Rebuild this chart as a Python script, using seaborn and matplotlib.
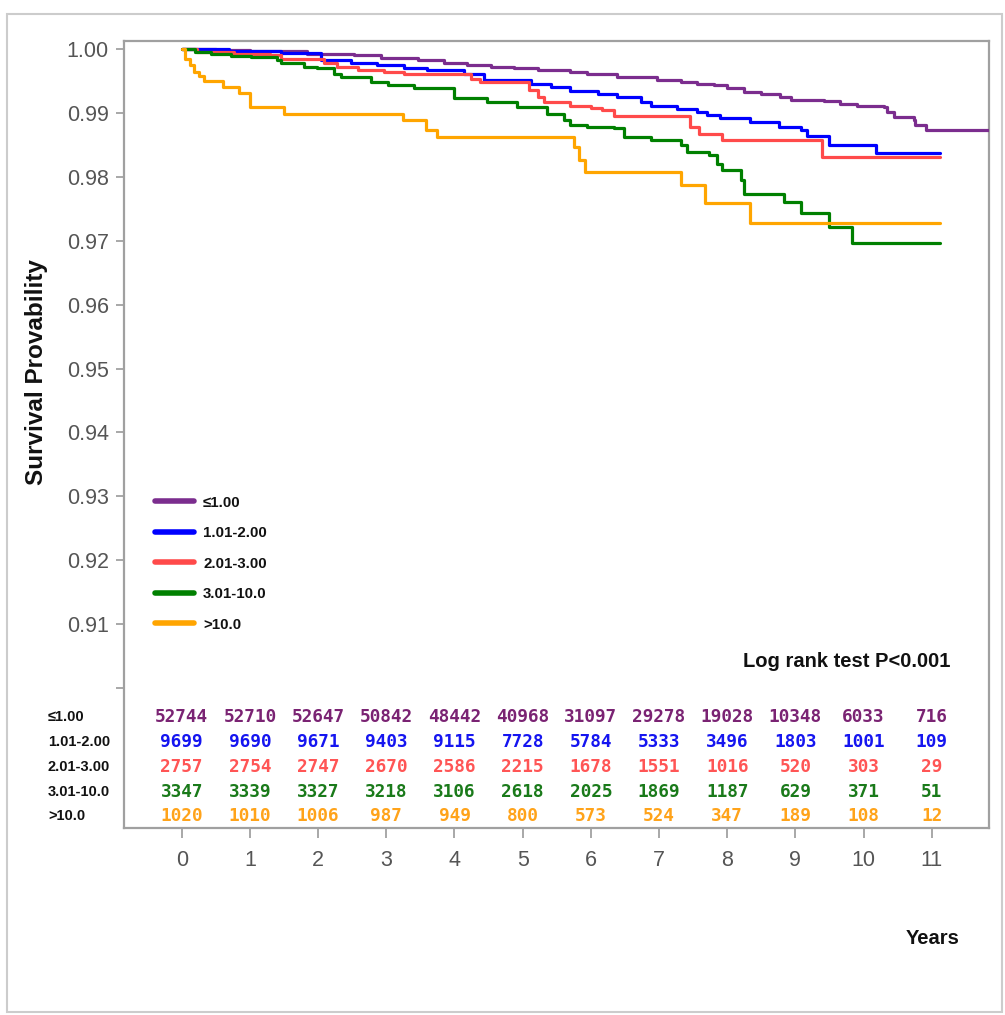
import pandas as pd
import matplotlib.pyplot as plt
import matplotlib.transforms as mtransforms
from matplotlib.lines import Line2D
from matplotlib.patches import Rectangle
import seaborn as sns

# Groups and colours
groups = ['≤1.00', '1.01-2.00', '2.01-3.00', '3.01-10.0', '>10.0']
line_colors = ['#7b2d8e', '#0000ff', '#ff4a4a', '#008000', '#ffa500']
num_colors = ['#7a2373', '#1515f0', '#ff5555', '#1a7a1a', '#ffa31a']

# Kaplan-Meier step curves (time in years, survival)
t_le1 = [0, 0.5, 1.0, 1.25, 1.84, 2.53, 2.92, 3.46, 3.85, 4.19, 4.53, 4.87, 5.22, 5.70, 5.95,
         6.39, 6.97, 7.32, 7.56, 7.81, 8.00, 8.24, 8.49, 8.78, 8.93, 9.42, 9.66, 9.91,
         10.30, 10.35, 10.44, 10.74, 10.76, 10.91, 11.84]
s_le1 = [1.0, 0.9999, 0.9998, 0.9997, 0.9993, 0.9991, 0.9987, 0.9983, 0.9979, 0.9976, 0.9972,
         0.9970, 0.9967, 0.9964, 0.9961, 0.9957, 0.9952, 0.9949, 0.9946, 0.9944, 0.9939,
         0.9933, 0.9930, 0.9925, 0.9921, 0.9919, 0.9915, 0.9911, 0.9909, 0.9902, 0.9894,
         0.9890, 0.9881, 0.9873, 0.9873]

t_1_2 = [0, 0.7, 1.45, 2.04, 2.48, 2.87, 3.26, 3.60, 4.14, 4.43, 5.12, 5.41, 5.70, 6.10,
         6.39, 6.73, 6.88, 7.27, 7.56, 7.71, 7.90, 8.34, 8.76, 9.08, 9.17, 9.49, 10.18, 11.12]
s_1_2 = [1.0, 0.9998, 0.9995, 0.9984, 0.9979, 0.9975, 0.9971, 0.9967, 0.9962, 0.99525,
         0.9946, 0.9941, 0.9934, 0.9930, 0.9925, 0.9918, 0.9911, 0.9906, 0.9902, 0.9897,
         0.9892, 0.9886, 0.9878, 0.9873, 0.9865, 0.9850, 0.9837, 0.9837]

t_2_3 = [0, 0.23, 0.77, 1.30, 1.45, 2.09, 2.28, 2.58, 2.97, 3.26, 4.24, 4.38, 5.09, 5.22,
         5.31, 5.70, 6.00, 6.17, 6.34, 7.46, 7.59, 7.93, 9.39, 11.12]
s_2_3 = [1.0, 0.9996, 0.9993, 0.9991, 0.9985, 0.9978, 0.9972, 0.9968, 0.99645, 0.9962,
         0.9954, 0.9949, 0.9936, 0.9925, 0.9918, 0.9912, 0.9908, 0.9905, 0.9895, 0.9878,
         0.9868, 0.9858, 0.9832, 0.9832]

t_3_10 = [0, 0.2, 0.43, 0.72, 1.01, 1.40, 1.45, 1.79, 1.99, 2.23, 2.33, 2.77, 3.02, 3.41,
          3.99, 4.48, 4.92, 5.36, 5.61, 5.70, 5.95, 6.34, 6.49, 6.88, 7.32, 7.41, 7.73,
          7.85, 7.93, 8.20, 8.24, 8.83, 9.08, 9.49, 9.83, 11.12]
s_3_10 = [1.0, 0.9996, 0.9993, 0.9990, 0.9988, 0.9983, 0.9978, 0.9973, 0.9970, 0.9962,
          0.9957, 0.9949, 0.9944, 0.9939, 0.9923, 0.9918, 0.9910, 0.9899, 0.9889, 0.9881,
          0.9878, 0.9876, 0.9863, 0.9858, 0.9850, 0.9839, 0.9834, 0.9821, 0.9811, 0.9795,
          0.9774, 0.9761, 0.9744, 0.9722, 0.9696, 0.9696]

t_gt10 = [0, 0.05, 0.12, 0.18, 0.25, 0.33, 0.60, 0.84, 1.00, 1.50, 3.24, 3.59, 3.75, 5.75,
          5.83, 5.92, 7.32, 7.67, 8.34, 11.12]
s_gt10 = [1.0, 0.9985, 0.9975, 0.9965, 0.9958, 0.9951, 0.9941, 0.9931, 0.9910, 0.9899,
          0.9890, 0.9873, 0.9862, 0.9847, 0.9826, 0.9808, 0.9787, 0.9759, 0.9728, 0.9728]

# Number at risk table
years = list(range(12))
risk_le1 = [52744, 52710, 52647, 50842, 48442, 40968, 31097, 29278, 19028, 10348, 6033, 716]
risk_1_2 = [9699, 9690, 9671, 9403, 9115, 7728, 5784, 5333, 3496, 1803, 1001, 109]
risk_2_3 = [2757, 2754, 2747, 2670, 2586, 2215, 1678, 1551, 1016, 520, 303, 29]
risk_3_10 = [3347, 3339, 3327, 3218, 3106, 2618, 2025, 1869, 1187, 629, 371, 51]
risk_gt10 = [1020, 1010, 1006, 987, 949, 800, 573, 524, 347, 189, 108, 12]

yticks = [0.90, 0.91, 0.92, 0.93, 0.94, 0.95, 0.96, 0.97, 0.98, 0.99, 1.00]
ytick_labels = [''] + ['%.2f' % v for v in yticks[1:]]
grid_vals = [0.92, 0.94, 0.96, 0.98, 1.00]

curves = [(t_le1, s_le1), (t_1_2, s_1_2), (t_2_3, s_2_3), (t_3_10, s_3_10), (t_gt10, s_gt10)]
risks = [risk_le1, risk_1_2, risk_2_3, risk_3_10, risk_gt10]

frames = []
for g, (t, s) in zip(groups, curves):
    frames.append(pd.DataFrame({'Years': t, 'Survival': s, 'Group': g}))
df = pd.concat(frames, ignore_index=True)

sns.set_style('white')
plt.rcParams['font.family'] = ['Liberation Sans', 'DejaVu Sans']

fig = plt.figure(figsize=(10.05, 10.15), dpi=100)
ax = fig.add_axes([0.1234, 0.1842, 0.8607, 0.7754])

sns.lineplot(data=df, x='Years', y='Survival', hue='Group', hue_order=groups,
             palette=line_colors, drawstyle='steps-post', estimator=None, sort=False,
             linewidth=2.3, legend=False, ax=ax, zorder=3)

ax.set_xlim(-0.846, 11.84)
ax.set_ylim(0.87806, 1.0013)
ax.set_xticks(years)
ax.set_xticklabels([str(y) for y in years])
ax.set_yticks(yticks)
ax.set_yticklabels(ytick_labels)
ax.set_yticks(grid_vals, minor=True)
ax.yaxis.grid(True, which='minor', color='#e6e6e6', linewidth=1.2)
ax.xaxis.grid(False)
ax.tick_params(axis='y', which='minor', length=0)
ax.tick_params(axis='both', which='major', labelsize=15.5, labelcolor='#555555',
               color='#999999', width=1.2, direction='out')
ax.tick_params(axis='y', which='major', length=6, pad=5, left=True)
ax.tick_params(axis='x', which='major', length=7.5, pad=8, bottom=True)
for sp in ax.spines.values():
    sp.set_color('#a0a0a0')
    sp.set_linewidth(1.6)

ax.set_ylabel('Survival Provability', fontsize=17.5, fontweight='bold', color='#111111')
ax.yaxis.set_label_coords(-0.088, 0.579)
ax.set_xlabel('Years', fontsize=14.5, fontweight='bold', color='#111111')
ax.xaxis.set_label_coords(0.935, -0.128)

# Legend
handles = [Line2D([], [], color=c, linewidth=4) for c in line_colors]
leg = ax.legend(handles, groups, loc='upper left', bbox_to_anchor=(0.029, 0.430),
                borderaxespad=0, frameon=True, facecolor='white', edgecolor='none',
                framealpha=1, handlelength=2.6, handletextpad=0.6,
                labelspacing=1.1, prop={'weight': 'bold', 'size': 10.8})
for txt in leg.get_texts():
    txt.set_color('#111111')

ax.text(0.955, 0.211, 'Log rank test P<0.001', transform=ax.transAxes, ha='right',
        va='center', fontsize=14.5, fontweight='bold', color='#111111')

# Number at risk rows inside the axes
trans = mtransforms.blended_transform_factory(ax.transData, ax.transAxes)
row_y = [0.1414, 0.1097, 0.0779, 0.0461, 0.0152]
for g, vals, col, ry in zip(groups, risks, num_colors, row_y):
    ax.text(-0.0879, ry, g, transform=ax.transAxes, ha='left', va='center',
            fontsize=10.5, fontweight='bold', color='#111111', clip_on=False)
    for yr, n in zip(years, vals):
        ax.text(yr, ry, str(n), transform=trans, ha='center', va='center',
                fontsize=12.8, fontweight='bold', family='DejaVu Sans Mono', color=col)

# Outer frame of the picture
fig.patches.append(Rectangle((0.007, 0.003), 0.990, 0.983, transform=fig.transFigure,
                             fill=False, edgecolor='#cccccc', linewidth=1.5))

plt.savefig('out.png', dpi=100)
